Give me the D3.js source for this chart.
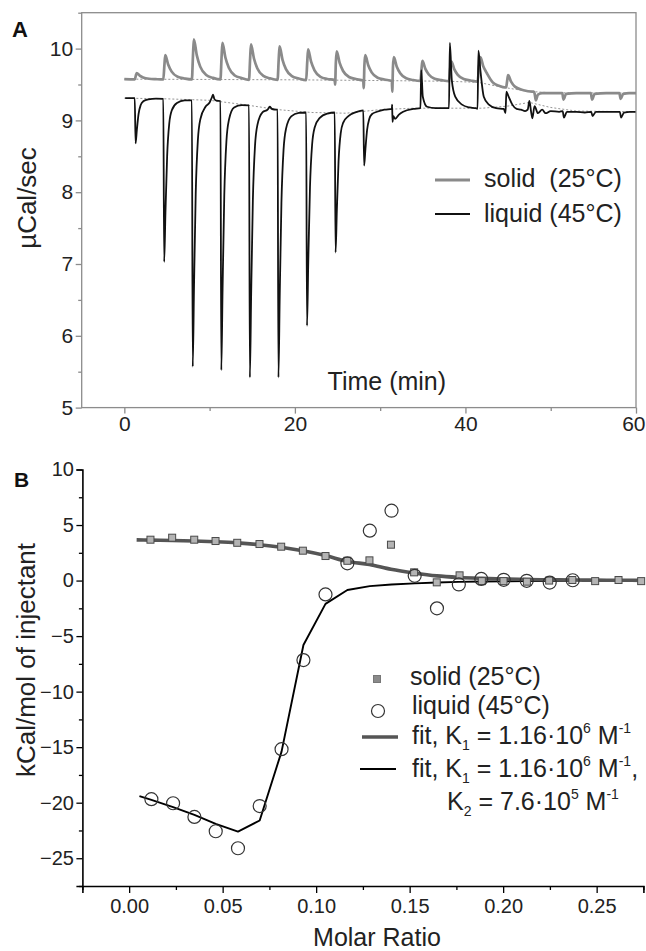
<!DOCTYPE html>
<html><head><meta charset="utf-8">
<script src="https://cdn.jsdelivr.net/npm/d3@7"></script>
<style>
body{margin:0;background:#fff}
text{font-family:"Liberation Sans",Arial,Helvetica,sans-serif}
</style>
</head><body>
<svg id="c" width="646" height="951"></svg>
<script>
// ---------- Panel A data (time in min, µCal/sec) ----------
const solidTrace = [
[0.0,9.575],[1.22,9.57],[1.35,9.624],[1.45,9.66],[1.8,9.624],[2.2,9.599],[2.9,9.58],[3.7,9.574],
[4.57,9.57],[4.7,9.774],[4.8,9.91],[5.15,9.774],[5.55,9.679],[6.25,9.607],[7.05,9.584],
[7.92,9.57],[8.05,9.906],[8.15,10.13],[8.5,9.906],[8.9,9.749],[9.6,9.632],[10.4,9.592],
[11.27,9.57],[11.4,9.876],[11.5,10.08],[11.85,9.876],[12.25,9.733],[12.95,9.626],[13.75,9.59],
[14.62,9.565],[14.75,9.862],[14.85,10.06],[15.2,9.862],[15.6,9.723],[16.3,9.619],[17.1,9.585],
[17.97,9.565],[18.1,9.844],[18.2,10.03],[18.55,9.844],[18.95,9.714],[19.65,9.616],[20.45,9.584],
[21.32,9.56],[21.45,9.818],[21.55,9.99],[21.9,9.818],[22.3,9.698],[23.0,9.607],[23.8,9.577],
[24.67,9.56],[24.72,9.50],[24.8,9.80],[24.9,9.96],[25.25,9.80],[25.65,9.688],[26.35,9.604],[27.15,9.576],
[28.02,9.555],[28.07,9.45],[28.15,9.768],[28.25,9.91],[28.6,9.768],[29.0,9.669],[29.7,9.594],[30.5,9.569],
[31.37,9.55],[31.42,9.40],[31.5,9.748],[31.6,9.88],[31.95,9.748],[32.35,9.656],[33.05,9.586],[33.85,9.563],
[34.72,9.55],[34.85,9.718],[34.95,9.83],[35.3,9.718],[35.7,9.64],[36.4,9.581],[37.2,9.561],
[38.07,9.545],[38.2,9.71],[38.35,9.82],[38.7,9.71],[39.1,9.633],[39.8,9.575],[40.6,9.556],
[41.42,9.54],[41.6,9.75],[41.75,9.88],[42.1,9.75],[42.5,9.66],[43.2,9.53],[44.0,9.48],[44.6,9.46],
[44.77,9.46],[44.9,9.56],[45.0,9.63],[45.35,9.54],[45.8,9.47],[46.8,9.42],[47.8,9.40],
[48.0,9.40],[48.12,9.37],[48.25,9.28],[48.5,9.36],[49.0,9.38],[50.5,9.38],
[51.35,9.38],[51.5,9.29],[51.8,9.37],[53.0,9.38],[54.5,9.38],
[54.7,9.38],[54.85,9.29],[55.15,9.37],[56.5,9.38],[57.9,9.38],
[58.05,9.38],[58.2,9.30],[58.5,9.37],[59.2,9.38],[60,9.38]
];
const liquidTrace = [
[0.1,9.31],[1.22,9.31],[1.32,8.68],[1.47,8.87],[1.67,9.09],[1.92,9.215],[2.22,9.266],[2.82,9.294],[3.72,9.303],
[4.57,9.30],[4.67,7.03],[4.82,7.71],[5.02,8.505],[5.27,8.96],[5.57,9.141],[6.17,9.243],[7.07,9.278],
[7.92,9.28],[8.02,5.57],[8.17,6.68],[8.37,7.98],[8.62,8.72],[8.92,9.02],[9.52,9.19],[10.0,9.25],[10.3,9.33],[10.4,9.36],[10.55,9.30],[10.8,9.275],
[11.27,9.27],[11.37,5.52],[11.52,6.645],[11.72,7.96],[11.97,8.71],[12.27,9.01],[12.87,9.18],[13.77,9.212],
[14.62,9.21],[14.72,5.42],[14.87,6.56],[15.07,7.88],[15.32,8.64],[15.62,8.945],[16.22,9.115],[16.8,9.15],[17.05,9.19],[17.3,9.16],[17.6,9.152],
[17.97,9.15],[18.07,5.42],[18.22,6.54],[18.42,7.845],[18.67,8.59],[18.97,8.889],[19.57,9.057],[20.47,9.105],
[21.32,9.11],[21.42,6.14],[21.57,7.03],[21.77,8.07],[22.02,8.665],[22.32,8.902],[22.92,9.036],[23.82,9.095],
[24.67,9.11],[24.77,7.16],[24.92,7.745],[25.12,8.43],[25.37,8.82],[25.67,8.97],[26.27,9.06],[27.17,9.115],
[28.02,9.14],[28.12,8.37],[28.27,8.60],[28.47,8.87],[28.72,9.02],[29.02,9.086],[29.62,9.12],[30.5,9.15],
[31.37,9.16],[31.40,9.22],[31.45,8.98],[31.55,9.06],[31.75,9.02],[32.2,9.08],[32.7,9.12],[33.9,9.16],
[34.72,9.17],[34.82,9.70],[35.0,9.33],[35.5,9.19],[36.5,9.17],[37.5,9.172],
[38.07,9.17],[38.17,10.08],[38.4,9.56],[38.8,9.33],[39.6,9.22],[40.5,9.18],[41.2,9.17],
[41.42,9.16],[41.52,9.97],[41.75,9.70],[42.15,9.33],[42.75,9.22],[43.6,9.17],[44.5,9.16],[44.7,9.10],
[44.8,9.40],[45.0,9.35],[45.5,9.22],[46.0,9.16],[46.5,9.15],[47.0,9.13],
[47.3,9.15],[47.5,9.27],[47.7,9.12],[47.85,9.03],[48.1,9.20],[48.5,9.10],[49.0,9.15],[49.4,9.10],[50.0,9.13],[51.0,9.12],
[51.4,9.13],[51.55,9.04],[51.9,9.12],[53.0,9.12],[54.0,9.11],
[54.75,9.12],[54.9,9.06],[55.3,9.12],[56.5,9.12],[57.5,9.12],
[58.1,9.12],[58.25,9.04],[58.6,9.11],[59.3,9.12],[60,9.12]
];
const solidBaseline = [[0,9.575],[10,9.57],[20,9.565],[30,9.555],[38,9.545],[41.5,9.53],[44,9.47],[46,9.43],[48,9.40],[50,9.385],[60,9.38]];
const liquidBaseline = [[0,9.31],[5,9.30],[10,9.28],[14,9.22],[18,9.15],[22,9.11],[26,9.10],[30,9.15],[34,9.17],[42,9.17],[45,9.20],[47.5,9.25],[50,9.18],[53,9.13],[60,9.12]];
const topXTicks = [0,20,40,60];
const topXMinor = [10,30,50];
const topYTicks = [5,6,7,8,9,10];
const topYMinor = [5.5,6.5,7.5,8.5,9.5,10.5];

// ---------- Panel B data (molar ratio, kCal/mol of injectant) ----------
const solidX = [0.0114,0.0230,0.0348,0.0462,0.0578,0.0697,0.0813,0.0929,0.1050,0.1167,0.1285,0.1400,0.1524,0.1645,0.1767,0.1886,0.2002,0.2127,0.2246,0.2370,0.2492,0.2617,0.2738];
const solidY = [3.68,3.86,3.68,3.56,3.40,3.29,3.05,2.69,2.21,1.78,1.82,3.23,0.74,-0.16,0.47,-0.05,-0.05,-0.10,0.0,0.05,-0.05,0.05,-0.05];
const liquidX = [0.0119,0.0235,0.0349,0.0463,0.0582,0.0698,0.0815,0.0932,0.1050,0.1167,0.1287,0.1403,0.1527,0.1646,0.1763,0.1883,0.2003,0.2126,0.2249,0.2372];
const liquidY = [-19.68,-20.05,-21.28,-22.57,-24.1,-20.3,-15.18,-7.16,-1.25,1.55,4.49,6.29,0.43,-2.5,-0.35,0.15,0.07,-0.02,-0.18,0.03];
const solidFitX = [0.004,0.0114,0.023,0.0348,0.0462,0.0578,0.0697,0.0813,0.0929,0.105,0.1167,0.1285,0.14,0.1524,0.1645,0.1767,0.1886,0.2002,0.2127,0.2246,0.237,0.2492,0.2617,0.275];
const solidFitY = [3.66,3.64,3.61,3.56,3.49,3.39,3.23,3.0,2.68,2.25,1.72,1.45,1.02,0.68,0.42,0.28,0.2,0.14,0.1,0.07,0.05,0.04,0.03,0.02];
const liquidFitX = [0.0055,0.0119,0.0235,0.0349,0.0463,0.0582,0.0698,0.0815,0.0932,0.105,0.1167,0.1287,0.1403,0.1527,0.1646,0.1763,0.1883,0.2003,0.2126,0.2249,0.2372];
const liquidFitY = [-19.4,-19.75,-20.4,-21.1,-21.9,-22.6,-21.6,-15.4,-5.8,-2.1,-0.85,-0.5,-0.35,-0.25,-0.17,-0.12,-0.09,-0.07,-0.05,-0.04,-0.03];
const botXTicks = [0,0.05,0.10,0.15,0.20,0.25];
const botXMinor = [-0.025,0.025,0.075,0.125,0.175,0.225,0.275];
const botYTicks = [10,5,0,-5,-10,-15,-20,-25];
const botYMinor = [7.5,2.5,-2.5,-7.5,-12.5,-17.5,-22.5,-27.5];

// ---------- Drawing ----------
const svg = d3.select("#c");
const GRAY = "#8c8c8c";
const FONT = '"Liberation Sans",Arial,sans-serif';
const TICKFS = 21;

// Panel A
const xA = d3.scaleLinear().domain([-5,60]).range([81.7,636]);
const yA = d3.scaleLinear().domain([5,10.5]).range([407.6,12.7]);

svg.append("defs").append("clipPath").attr("id","clipA")
  .append("rect").attr("x",xA(-5)).attr("y",yA(10.5)).attr("width",xA(60)-xA(-5)).attr("height",yA(5)-yA(10.5));

const lineA = d3.line().x(d=>xA(d[0])).y(d=>yA(d[1]));
const lineAc = d3.line().x(d=>xA(d[0])).y(d=>yA(d[1])).curve(d3.curveMonotoneX);
const gA = svg.append("g").attr("clip-path","url(#clipA)");
gA.append("path").attr("d",lineA(solidBaseline)).attr("fill","none").attr("stroke","#888").attr("stroke-width",0.9).attr("stroke-dasharray","2,2");
gA.append("path").attr("d",lineA(liquidBaseline)).attr("fill","none").attr("stroke","#888").attr("stroke-width",0.9).attr("stroke-dasharray","2,2");
gA.append("path").attr("d",lineAc(solidTrace)).attr("fill","none").attr("stroke","#8a8a8a").attr("stroke-width",2.7).attr("stroke-linejoin","round");
gA.append("path").attr("d",lineAc(liquidTrace)).attr("fill","none").attr("stroke","#111").attr("stroke-width",1.8).attr("stroke-linejoin","round");

// frame
svg.append("rect").attr("x",xA(-5)).attr("y",yA(10.5)).attr("width",xA(60)-xA(-5)).attr("height",yA(5)-yA(10.5))
  .attr("fill","none").attr("stroke",GRAY).attr("stroke-width",1.3);

function styleAxis(g,color,fs){
  g.select(".domain").remove();
  g.selectAll(".tick line").attr("stroke",color).attr("stroke-width",1.3);
  g.selectAll(".tick text").attr("fill","#222").attr("font-size",fs).attr("font-family",FONT);
}
const axAx = svg.append("g").attr("transform",`translate(0,${yA(5)})`)
  .call(d3.axisBottom(xA).tickValues(topXTicks).tickSize(6).tickPadding(2.5).tickFormat(d3.format("d")));
styleAxis(axAx,GRAY,TICKFS);
axAx.selectAll(".tick text").filter(d=>d===60).attr("text-anchor","end").attr("dx",9);
const axAxm = svg.append("g").attr("transform",`translate(0,${yA(5)})`)
  .call(d3.axisBottom(xA).tickValues(topXMinor).tickSize(3.5).tickFormat(""));
styleAxis(axAxm,GRAY,TICKFS);
const axAy = svg.append("g").attr("transform",`translate(${xA(-5)},0)`)
  .call(d3.axisLeft(yA).tickValues(topYTicks).tickSize(6).tickPadding(2.5).tickFormat(d3.format("d")));
styleAxis(axAy,GRAY,TICKFS);
const axAym = svg.append("g").attr("transform",`translate(${xA(-5)},0)`)
  .call(d3.axisLeft(yA).tickValues(topYMinor).tickSize(3.5).tickFormat(""));
styleAxis(axAym,GRAY,TICKFS);

svg.append("text").attr("x",12).attr("y",37).attr("font-size",22).attr("font-weight","bold").attr("fill","#111").text("A");
svg.append("text").attr("transform","translate(36,198) rotate(-90)").attr("text-anchor","middle")
  .attr("font-size",26).attr("fill","#222").text("µCal/sec");
svg.append("text").attr("x",327.6).attr("y",390).attr("font-size",25).attr("fill","#222").text("Time (min)");

// legend A
svg.append("line").attr("x1",435).attr("x2",470).attr("y1",180).attr("y2",180).attr("stroke","#8a8a8a").attr("stroke-width",3);
svg.append("text").attr("x",484).attr("y",187).attr("font-size",25).attr("fill","#222").attr("xml:space","preserve").text("solid  (25°C)");
svg.append("line").attr("x1",435).attr("x2",470).attr("y1",214).attr("y2",214).attr("stroke","#111").attr("stroke-width",2);
svg.append("text").attr("x",484).attr("y",221.5).attr("font-size",25).attr("fill","#222").text("liquid (45°C)");

// Panel B
const xB = d3.scaleLinear().domain([-0.025,0.275]).range([82.4,643.4]);
const yB = d3.scaleLinear().domain([-27.5,10]).range([886,469.5]);

const fitLine = d3.line().x(d=>xB(d[0])).y(d=>yB(d[1]));
const solidFit = solidFitX.map((x,i)=>[x,solidFitY[i]]);
const liquidFit = liquidFitX.map((x,i)=>[x,liquidFitY[i]]);
svg.append("path").attr("d",fitLine(liquidFit)).attr("fill","none").attr("stroke","#000").attr("stroke-width",1.9).attr("stroke-linejoin","round");
svg.append("path").attr("d",fitLine.curve(d3.curveMonotoneX)(solidFit)).attr("fill","none").attr("stroke","#555").attr("stroke-width",3.6);

const sq = 7;
svg.append("g").selectAll("rect").data(solidX.map((x,i)=>[x,solidY[i]])).join("rect")
  .attr("x",d=>xB(d[0])-sq/2).attr("y",d=>yB(d[1])-sq/2).attr("width",sq).attr("height",sq)
  .attr("fill","#b4b4b4").attr("stroke","#4a4a4a").attr("stroke-width",1);
svg.append("g").selectAll("circle").data(liquidX.map((x,i)=>[x,liquidY[i]])).join("circle")
  .attr("cx",d=>xB(d[0])).attr("cy",d=>yB(d[1])).attr("r",6.5)
  .attr("fill","none").attr("stroke","#333").attr("stroke-width",1.2);

const axBx = svg.append("g").attr("transform",`translate(0,${yB(-27.5)})`)
  .call(d3.axisBottom(xB).tickValues(botXTicks).tickSize(7).tickPadding(5.5).tickFormat(d3.format(".2f")));
axBx.select(".domain").attr("stroke","#000").attr("stroke-width",1.6);
axBx.selectAll(".tick line").attr("stroke","#000").attr("stroke-width",1.3);
axBx.selectAll(".tick text").attr("fill","#222").attr("font-size",TICKFS-1).attr("font-family",FONT);
const axBxm = svg.append("g").attr("transform",`translate(0,${yB(-27.5)})`)
  .call(d3.axisBottom(xB).tickValues(botXMinor).tickSize(4).tickFormat(""));
axBxm.select(".domain").remove();
axBxm.selectAll(".tick line").attr("stroke","#000").attr("stroke-width",1.3);

const axBy = svg.append("g").attr("transform",`translate(${xB(-0.025)},0)`)
  .call(d3.axisLeft(yB).tickValues(botYTicks).tickSize(6).tickPadding(2.5).tickFormat(d3.format("d")));
axBy.select(".domain").attr("stroke","#000").attr("stroke-width",1.6);
axBy.selectAll(".tick line").attr("stroke","#000").attr("stroke-width",1.3);
axBy.selectAll(".tick text").attr("fill","#222").attr("font-size",TICKFS-1).attr("font-family",FONT);
const axBym = svg.append("g").attr("transform",`translate(${xB(-0.025)},0)`)
  .call(d3.axisLeft(yB).tickValues(botYMinor).tickSize(3.5).tickFormat(""));
axBym.select(".domain").remove();
axBym.selectAll(".tick line").attr("stroke","#000").attr("stroke-width",1.3);

svg.append("text").attr("x",14).attr("y",487).attr("font-size",21).attr("font-weight","bold").attr("fill","#111").text("B");
svg.append("text").attr("transform","translate(35,660) rotate(-90)").attr("text-anchor","middle")
  .attr("font-size",26).attr("fill","#222").text("kCal/mol of injectant");
svg.append("text").attr("x",377).attr("y",946).attr("text-anchor","middle").attr("font-size",25).attr("fill","#222").text("Molar Ratio");

// legend B
svg.append("rect").attr("x",377-sq/2).attr("y",679-sq/2).attr("width",sq).attr("height",sq)
  .attr("fill","#8a8a8a").attr("stroke","#777").attr("stroke-width",1);
svg.append("text").attr("x",410).attr("y",685).attr("font-size",25).attr("fill","#222").text("solid (25°C)");
svg.append("circle").attr("cx",378).attr("cy",711).attr("r",6.5).attr("fill","none").attr("stroke","#333").attr("stroke-width",1.2);
svg.append("text").attr("x",412).attr("y",714).attr("font-size",25).attr("fill","#222").text("liquid (45°C)");
svg.append("line").attr("x1",362).attr("x2",398).attr("y1",737).attr("y2",737).attr("stroke","#555").attr("stroke-width",3.6);
svg.append("line").attr("x1",360).attr("x2",396).attr("y1",769).attr("y2",769).attr("stroke","#000").attr("stroke-width",1.9);

function fitText(x,y,parts){
  const t = svg.append("text").attr("x",x).attr("y",y).attr("font-size",25).attr("fill","#222");
  parts.forEach(p=>{
    const s = t.append("tspan").text(p[0]);
    if(p[1]==="sub"){ s.attr("font-size",14).attr("dy",6); }
    else if(p[1]==="sup"){ s.attr("font-size",14).attr("dy",-11); }
    else if(p[1]==="back"){ s.attr("dy",p[2]); }
  });
}
fitText(412,744,[["fit, K"],["1","sub"],[" = 1.16·10","back",-6],["6","sup"],[" M","back",11],["-1","sup"]]);
fitText(412,777,[["fit, K"],["1","sub"],[" = 1.16·10","back",-6],["6","sup"],[" M","back",11],["-1","sup"],[",","back",11]]);
fitText(447,810,[["K"],["2","sub"],[" = 7.6·10","back",-6],["5","sup"],[" M","back",11],["-1","sup"]]);
</script>
</body></html>
